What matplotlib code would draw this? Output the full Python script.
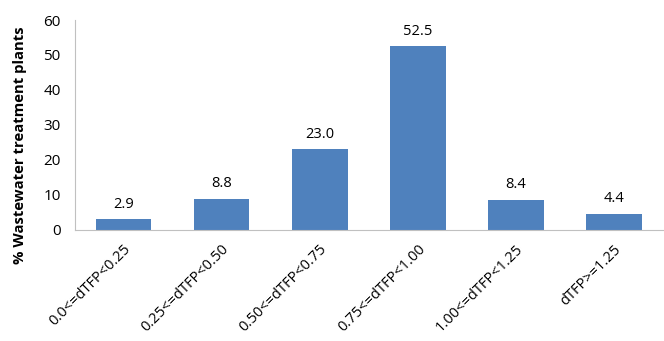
import matplotlib
matplotlib.use("Agg")
import matplotlib.pyplot as plt

categories = ["0.0<=dTFP<0.25", "0.25<=dTFP<0.50", "0.50<=dTFP<0.75",
              "0.75<=dTFP<1.00", "1.00<=dTFP<1.25", "dTFP>=1.25"]
values = [2.9, 8.8, 23.0, 52.5, 8.4, 4.4]
yticks = [0, 10, 20, 30, 40, 50, 60]

plt.rcParams['font.family'] = ['Open Sans', 'DejaVu Sans']

fig = plt.figure(figsize=(6.64, 3.41), dpi=100)
ax_left = 74.5 / 664
ax_bottom = 1 - 229.5 / 341
ax_top = 1 - 20 / 341
ax = fig.add_axes([ax_left, ax_bottom, 1 - ax_left - 0.002, ax_top - ax_bottom])
x = list(range(len(categories)))
ax.bar(x, values, width=0.57, color="#4f81bd")
for xi, v in zip(x, values):
    ax.text(xi, v + 2.2, f"{v:.1f}", ha="center", va="bottom", fontsize=10.5, color="black")

ax.set_xlim(-0.5, len(categories) - 0.5)
ax.set_ylim(0, 60)
ax.set_yticks(yticks)
ax.set_xticks(x)
ax.set_xticklabels(categories, rotation=45, ha="right", rotation_mode="anchor", fontsize=10.5)
ax.tick_params(axis="y", length=0, labelsize=11, pad=10)
ax.tick_params(axis="x", length=0, pad=9)
for s in ["top", "right"]:
    ax.spines[s].set_visible(False)
for s in ["left", "bottom"]:
    ax.spines[s].set_color("#c0c0c0")
ax.set_ylabel("% Wastewater treatment plants", fontsize=10.7, fontweight="bold")
ax.yaxis.set_label_coords((27 - 74.5) / (664 * (1 - ax_left - 0.002)), (229.5 - 145) / 209.5)

fig.savefig("out.png", dpi=100)
